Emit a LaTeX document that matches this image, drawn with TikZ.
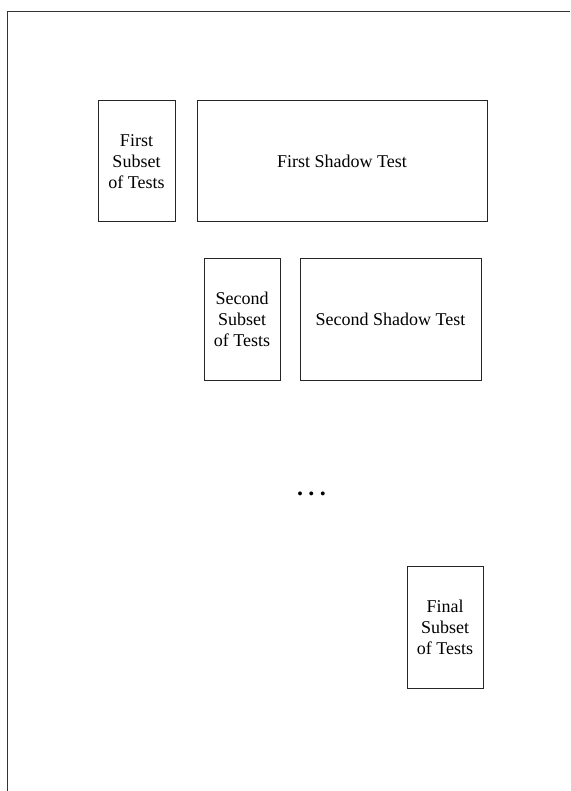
\documentclass[tikz,border=0pt]{standalone}
\usepackage{fontspec}
\setmainfont{Liberation Serif}
\begin{document}
\begin{tikzpicture}[x=1pt,y=-1pt,
  box/.style={draw=black!85,line width=1pt,inner sep=0pt,align=center,
    font=\fontsize{18}{21}\selectfont},
  frameline/.style={draw=black!80,line width=1.3pt}]
\useasboundingbox (0,0) rectangle (570,791);
\coordinate (ftl) at (7.5,11.5);
\coordinate (ftr) at (570,11.5);
\coordinate (fbl) at (7.5,791);
\draw[frameline] (ftr) -- (ftl) -- (fbl);
\node[box,minimum width=77pt,minimum height=121pt] (fs) at (136.5,161.5) {First\\Subset\\of Tests};
\node[box,minimum width=290pt,minimum height=121pt] (fst) at (342,161.5) {First Shadow Test};
\node[box,minimum width=76pt,minimum height=121pt] (ss) at (242,319.5) {Second\\Subset\\of Tests};
\node[box,minimum width=181pt,minimum height=121pt] (sst) at (390.5,319.5) {Second Shadow Test};
\node[font=\fontsize{24}{28}\selectfont\bfseries,inner sep=0pt,anchor=base] (dots) at (311.5,495.5) {.\kern5.3pt.\kern5.3pt.};
\node[box,minimum width=76pt,minimum height=122pt] (fin) at (445,627) {Final\\Subset\\of Tests};
\end{tikzpicture}
\end{document}
